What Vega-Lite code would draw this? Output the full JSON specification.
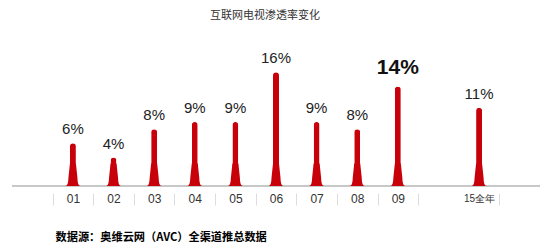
{
  "$schema": "https://vega.github.io/schema/vega-lite/v6.json",
  "width": 528,
  "height": 145,
  "autosize": {"type": "none"},
  "padding": {"left": 12, "top": 41, "right": 10, "bottom": 62},
  "background": "white",
  "config": {"view": {"stroke": null}},
  "title": {
    "text": "互联网电视渗透率变化",
    "font": "Noto Sans CJK SC",
    "fontSize": 11,
    "fontWeight": "normal",
    "color": "#333333",
    "offset": 20,
    "dx": -11,
    "anchor": "middle"
  },
  "data": {
    "values": [
      {"month": "01", "rate": 6},
      {"month": "02", "rate": 4},
      {"month": "03", "rate": 8},
      {"month": "04", "rate": 9},
      {"month": "05", "rate": 9},
      {"month": "06", "rate": 16},
      {"month": "07", "rate": 9},
      {"month": "08", "rate": 8},
      {"month": "09", "rate": 14},
      {"month": "15全年", "rate": 11}
    ]
  },
  "transform": [{"calculate": "datum.rate + '%'", "as": "label"}],
  "encoding": {
    "x": {
      "field": "month",
      "type": "ordinal",
      "sort": null,
      "scale": {
        "domain": ["01", "02", "03", "04", "05", "06", "07", "08", "09", " ", "15全年"],
        "paddingInner": 0,
        "paddingOuter": 1
      },
      "axis": {
        "values": ["01", "02", "03", "04", "05", "06", "07", "08", "09", "15全年"],
        "tickBand": "extent",
        "offset": 7,
        "domain": false,
        "ticks": true,
        "tickSize": 12,
        "tickColor": "#dddddd",
        "tickWidth": 1,
        "labelPadding": -12,
        "labelAngle": 0,
        "labelFont": "Liberation Sans",
        "labelFontSize": {"condition": {"test": "datum.value == '15全年'", "value": 10}, "value": 12},
        "labelColor": "#333333",
        "title": "数据源：奥维云网（AVC）全渠道推总数据",
        "titleFont": "Noto Sans CJK SC",
        "titleFontSize": 11.2,
        "titleFontWeight": "bold",
        "titleColor": "#000000",
        "titleAnchor": "start",
        "titleAlign": "left",
        "titleX": 43,
        "titlePadding": 26
      }
    },
    "y": {
      "field": "rate",
      "type": "quantitative",
      "scale": {"domain": [0, 20.4], "nice": false},
      "axis": null
    }
  },
  "layer": [
    {
      "mark": {"type": "rule", "color": "#c8c8c8", "strokeWidth": 2},
      "encoding": {"x": {"value": 0}, "x2": {"value": 528}, "y": {"datum": 0, "type": "quantitative"}}
    },
    {
      "mark": {
        "type": "bar",
        "width": 6,
        "color": "#c8000a",
        "cornerRadiusTopLeft": 3,
        "cornerRadiusTopRight": 3
      }
    },
    {
      "mark": {
        "type": "point",
        "shape": "M-1,0 C-0.7,-0.05 -0.62,-0.5 -0.6,-1.1 L-0.4,-3 L0.4,-3 L0.6,-1.1 C0.62,-0.5 0.7,-0.05 1,0 Z",
        "size": 225,
        "filled": true,
        "color": "#c8000a",
        "opacity": 1,
        "strokeWidth": 0
      },
      "encoding": {"y": {"datum": 0, "type": "quantitative"}}
    },
    {
      "transform": [{"filter": "datum.month != '09'"}],
      "mark": {
        "type": "text",
        "baseline": "alphabetic",
        "dy": -9,
        "font": "Liberation Sans",
        "fontSize": 15,
        "color": "#222222"
      },
      "encoding": {"text": {"field": "label", "type": "nominal"}}
    },
    {
      "transform": [{"filter": "datum.month == '09'"}],
      "mark": {
        "type": "text",
        "baseline": "alphabetic",
        "dy": -12,
        "font": "Liberation Sans",
        "fontSize": 21,
        "fontWeight": "bold",
        "color": "#111111"
      },
      "encoding": {"text": {"field": "label", "type": "nominal"}}
    }
  ]
}
